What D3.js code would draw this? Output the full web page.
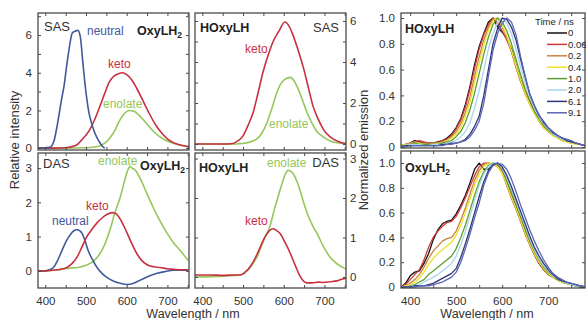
<!DOCTYPE html>
<html>
<head>
<meta charset="utf-8">
<script src="https://cdn.jsdelivr.net/npm/d3@7"></script>
<style>
  body { margin: 0; background: #fff; }
  svg { display: block; font-family: 'Liberation Sans', Arial, sans-serif; }
</style>
</head>
<body>
<svg id="chart" width="586" height="320"></svg>
<script>
// ---- SAS / DAS spectra (left and middle panels) ----
const oxySasNeutralWl = [382, 400, 410, 415, 421, 430, 440, 446, 452, 458, 466, 473, 480, 486, 492, 497, 502, 507, 514, 520, 526, 532, 540, 546];
const oxySasNeutral = [0, 0.02, 0.05, 0.1, 0.36, 1.3, 2.6, 3.3, 4.3, 5.2, 6.1, 6.2, 6.25, 5.9, 4.6, 3.5, 2.6, 1.9, 1.3, 0.9, 0.6, 0.36, 0.1, 0];
const oxySasKetoWl = [382, 420, 450, 476, 490, 507, 520, 532, 545, 557, 570, 580, 589, 600, 613, 625, 638, 655, 672, 688, 704, 725, 746, 753];
const oxySasKeto = [0, 0, 0.02, 0.15, 0.45, 0.9, 1.45, 2.1, 2.85, 3.5, 3.85, 3.95, 4.0, 3.9, 3.6, 3.15, 2.6, 1.85, 1.2, 0.75, 0.42, 0.2, 0.1, 0.08];
const oxySasEnolateWl = [382, 450, 500, 532, 545, 557, 570, 581, 593, 606, 618, 630, 645, 663, 680, 697, 720, 746, 753];
const oxySasEnolate = [0, 0, 0.02, 0.1, 0.25, 0.5, 0.9, 1.4, 1.8, 2.0, 1.95, 1.75, 1.4, 0.95, 0.62, 0.4, 0.22, 0.1, 0.08];

const oxyDasNeutralWl = [382, 400, 419, 430, 441, 452, 461, 470, 478, 485, 490, 497, 505, 515, 527, 540, 552, 568, 584, 601, 617, 633, 655, 675, 695, 714, 735, 751];
const oxyDasNeutral = [0, 0, 0.09, 0.3, 0.6, 0.88, 1.05, 1.17, 1.2, 1.17, 1.1, 0.9, 0.6, 0.35, 0.1, -0.08, -0.2, -0.3, -0.36, -0.4, -0.36, -0.27, -0.15, -0.07, -0.02, 0.02, 0.02, 0.02];
const oxyDasKetoWl = [382, 420, 440, 453, 466, 478, 490, 502, 515, 527, 540, 552, 564, 572, 579, 590, 601, 613, 625, 637, 650, 666, 682, 700, 720, 751];
const oxyDasKeto = [0, 0.02, 0.05, 0.1, 0.22, 0.4, 0.7, 1.0, 1.22, 1.4, 1.55, 1.65, 1.7, 1.68, 1.6, 1.38, 1.1, 0.78, 0.5, 0.3, 0.18, 0.12, 0.1, 0.06, 0.04, 0.03];
const oxyDasEnolateWl = [382, 419, 440, 461, 480, 502, 520, 534, 547, 559, 571, 584, 594, 603, 608, 613, 620, 633, 648, 665, 682, 699, 715, 731, 751];
const oxyDasEnolate = [0, 0.02, 0.05, 0.08, 0.1, 0.17, 0.3, 0.5, 0.8, 1.2, 1.7, 2.15, 2.6, 2.95, 3.05, 3.0, 2.95, 2.7, 2.3, 1.85, 1.45, 1.1, 0.82, 0.6, 0.3];

const hoxySasKetoWl = [382, 450, 475, 487, 500, 512, 525, 537, 549, 562, 574, 588, 603, 613, 623, 635, 648, 660, 672, 685, 697, 714, 731, 745, 753];
const hoxySasKeto = [0, 0, 0.03, 0.15, 0.4, 0.9, 1.55, 2.5, 3.5, 4.35, 5.0, 5.5, 5.95, 5.75, 5.3, 4.6, 3.75, 2.8, 1.85, 1.2, 0.73, 0.35, 0.15, 0.05, 0.03];
const hoxySasEnolateWl = [382, 480, 493, 510, 534, 547, 559, 571, 583, 593, 603, 616, 625, 633, 645, 657, 670, 682, 697, 714, 731, 753];
const hoxySasEnolate = [0, 0, 0.02, 0.06, 0.25, 0.55, 1.05, 1.75, 2.5, 2.95, 3.15, 3.25, 3.1, 2.8, 2.2, 1.55, 1.0, 0.6, 0.35, 0.15, 0.06, 0.02];

const hoxyDasKetoWl = [382, 420, 450, 480, 493, 505, 517, 530, 542, 552, 561, 568, 574, 582, 591, 603, 616, 628, 640, 650, 657, 670, 685, 697, 714, 731, 745, 753];
const hoxyDasKeto = [0.05, 0.05, 0.04, 0.05, 0.05, 0.12, 0.25, 0.48, 0.75, 0.98, 1.12, 1.2, 1.22, 1.18, 1.1, 0.88, 0.6, 0.3, 0.02, -0.12, -0.15, -0.15, -0.13, -0.14, -0.12, -0.1, -0.05, -0.03];
const hoxyDasEnolateWl = [382, 450, 493, 510, 522, 534, 546, 556, 566, 578, 591, 600, 606, 611, 617, 623, 635, 648, 660, 672, 682, 697, 714, 731, 753];
const hoxyDasEnolate = [0, 0.02, 0.05, 0.15, 0.3, 0.5, 0.8, 1.05, 1.28, 1.75, 2.2, 2.5, 2.65, 2.7, 2.68, 2.62, 2.35, 1.92, 1.55, 1.28, 1.1, 0.78, 0.5, 0.33, 0.2];

// ---- time-resolved normalized emission (right panels) ----
const timeLabels = ['0', '0.06', '0.2', '0.4', '1.0', '2.0', '6.1', '9.1'];
const timeColors = ['#111111', '#d03a3a', '#c8843c', '#ece22a', '#5a9e2e', '#a9d5ef', '#2b3778', '#5b63b6'];
const timeWl = [380, 390, 400, 410, 420, 430, 440, 450, 460, 470, 480, 490, 500, 510, 520, 530, 540, 550, 560, 570, 580, 590, 600, 610, 620, 630, 640, 650, 660, 670, 680, 690, 700, 710, 720, 730, 740, 750, 760, 770, 780];

const hoxyT0 = [0.01, 0.02, 0.03, 0.05, 0.04, 0.03, 0.03, 0.03, 0.04, 0.05, 0.07, 0.1, 0.15, 0.22, 0.33, 0.47, 0.64, 0.78, 0.88, 0.97, 1.0, 0.93, 0.89, 0.84, 0.76, 0.63, 0.52, 0.43, 0.35, 0.27, 0.21, 0.16, 0.13, 0.1, 0.08, 0.07, 0.05, 0.04, 0.03, 0.02, 0.01];
const hoxyT006 = [0.01, 0.02, 0.03, 0.04, 0.05, 0.04, 0.03, 0.03, 0.03, 0.05, 0.06, 0.09, 0.14, 0.21, 0.31, 0.45, 0.61, 0.76, 0.87, 0.95, 1.0, 0.96, 0.9, 0.83, 0.74, 0.62, 0.51, 0.42, 0.34, 0.27, 0.21, 0.16, 0.12, 0.1, 0.08, 0.06, 0.05, 0.04, 0.03, 0.02, 0.01];
const hoxyT02 = [0.01, 0.02, 0.03, 0.04, 0.03, 0.03, 0.02, 0.03, 0.03, 0.04, 0.05, 0.08, 0.12, 0.18, 0.27, 0.39, 0.55, 0.7, 0.83, 0.93, 0.99, 1.0, 0.93, 0.85, 0.74, 0.62, 0.51, 0.41, 0.33, 0.26, 0.2, 0.15, 0.12, 0.09, 0.07, 0.05, 0.04, 0.03, 0.03, 0.02, 0.01];
const hoxyT04 = [0.01, 0.02, 0.02, 0.03, 0.03, 0.02, 0.02, 0.02, 0.03, 0.03, 0.05, 0.07, 0.1, 0.15, 0.24, 0.35, 0.5, 0.65, 0.79, 0.9, 0.98, 1.0, 0.94, 0.86, 0.75, 0.63, 0.52, 0.42, 0.33, 0.26, 0.2, 0.15, 0.12, 0.09, 0.07, 0.05, 0.04, 0.03, 0.02, 0.02, 0.01];
const hoxyT10 = [0.01, 0.01, 0.02, 0.03, 0.02, 0.02, 0.02, 0.02, 0.02, 0.03, 0.04, 0.05, 0.08, 0.12, 0.19, 0.29, 0.42, 0.57, 0.72, 0.85, 0.95, 1.0, 0.97, 0.9, 0.8, 0.68, 0.56, 0.45, 0.36, 0.28, 0.22, 0.17, 0.13, 0.1, 0.08, 0.06, 0.05, 0.04, 0.03, 0.02, 0.01];
const hoxyT20 = [0, 0.01, 0.02, 0.02, 0.02, 0.01, 0.01, 0.02, 0.02, 0.02, 0.03, 0.04, 0.05, 0.08, 0.12, 0.19, 0.3, 0.44, 0.6, 0.76, 0.88, 0.97, 1.0, 0.96, 0.88, 0.76, 0.62, 0.5, 0.39, 0.3, 0.23, 0.18, 0.14, 0.1, 0.08, 0.06, 0.05, 0.04, 0.03, 0.02, 0.01];
const hoxyT61 = [0, 0.01, 0.01, 0.01, 0.01, 0.01, 0.01, 0.01, 0.01, 0.02, 0.02, 0.03, 0.03, 0.04, 0.06, 0.1, 0.16, 0.24, 0.4, 0.6, 0.8, 0.92, 1.0, 0.99, 0.93, 0.83, 0.68, 0.54, 0.41, 0.32, 0.25, 0.19, 0.15, 0.11, 0.09, 0.07, 0.05, 0.04, 0.03, 0.02, 0.01];
const hoxyT91 = [0, 0, 0.01, 0.01, 0.01, 0.01, 0.01, 0.01, 0.01, 0.01, 0.02, 0.02, 0.03, 0.04, 0.05, 0.08, 0.13, 0.2, 0.34, 0.55, 0.75, 0.88, 0.96, 1.0, 0.97, 0.87, 0.7, 0.55, 0.41, 0.32, 0.24, 0.2, 0.15, 0.12, 0.09, 0.07, 0.06, 0.05, 0.03, 0.02, 0.01];

const oxyT0 = [0, 0.03, 0.09, 0.12, 0.13, 0.19, 0.27, 0.38, 0.46, 0.51, 0.53, 0.54, 0.59, 0.66, 0.74, 0.84, 0.95, 1.0, 0.95, 0.95, 0.98, 1.0, 0.95, 0.84, 0.74, 0.65, 0.55, 0.45, 0.35, 0.26, 0.19, 0.14, 0.11, 0.08, 0.06, 0.04, 0.03, 0.02, 0.01, 0, 0];
const oxyT006 = [0, 0.02, 0.06, 0.1, 0.14, 0.22, 0.32, 0.4, 0.45, 0.49, 0.52, 0.53, 0.57, 0.64, 0.72, 0.81, 0.9, 0.97, 1.0, 1.0, 0.99, 0.98, 0.93, 0.82, 0.72, 0.63, 0.53, 0.43, 0.34, 0.26, 0.19, 0.14, 0.1, 0.08, 0.06, 0.04, 0.03, 0.02, 0.01, 0.01, 0];
const oxyT02 = [0, 0.01, 0.03, 0.06, 0.1, 0.16, 0.23, 0.29, 0.33, 0.37, 0.39, 0.4, 0.45, 0.54, 0.64, 0.75, 0.86, 0.94, 0.99, 1.0, 0.99, 0.97, 0.92, 0.82, 0.72, 0.63, 0.53, 0.43, 0.34, 0.26, 0.2, 0.14, 0.1, 0.08, 0.06, 0.04, 0.03, 0.02, 0.01, 0.01, 0];
const oxyT04 = [0, 0.01, 0.02, 0.04, 0.07, 0.12, 0.18, 0.23, 0.27, 0.3, 0.33, 0.36, 0.42, 0.5, 0.6, 0.71, 0.82, 0.91, 0.97, 1.0, 1.0, 0.97, 0.92, 0.83, 0.73, 0.64, 0.54, 0.44, 0.35, 0.27, 0.2, 0.15, 0.11, 0.08, 0.06, 0.04, 0.03, 0.02, 0.01, 0.01, 0];
const oxyT10 = [0, 0, 0.01, 0.02, 0.04, 0.06, 0.1, 0.13, 0.16, 0.19, 0.22, 0.25, 0.31, 0.4, 0.5, 0.62, 0.74, 0.85, 0.93, 0.98, 1.0, 0.99, 0.95, 0.86, 0.77, 0.67, 0.57, 0.47, 0.37, 0.29, 0.22, 0.16, 0.12, 0.09, 0.06, 0.05, 0.03, 0.02, 0.01, 0.01, 0];
const oxyT20 = [0, 0, 0.01, 0.01, 0.02, 0.04, 0.06, 0.08, 0.1, 0.13, 0.16, 0.19, 0.25, 0.34, 0.45, 0.57, 0.7, 0.82, 0.91, 0.97, 1.0, 1.0, 0.96, 0.88, 0.79, 0.69, 0.59, 0.49, 0.39, 0.3, 0.23, 0.17, 0.13, 0.09, 0.07, 0.05, 0.03, 0.02, 0.01, 0.01, 0];
const oxyT61 = [0, 0, 0, 0.01, 0.01, 0.01, 0.02, 0.03, 0.05, 0.07, 0.09, 0.11, 0.15, 0.24, 0.35, 0.47, 0.6, 0.73, 0.85, 0.94, 0.99, 1.0, 0.97, 0.9, 0.81, 0.71, 0.61, 0.51, 0.41, 0.32, 0.25, 0.19, 0.14, 0.1, 0.07, 0.05, 0.04, 0.03, 0.02, 0.01, 0];
const oxyT91 = [0, 0, 0, 0, 0.01, 0.01, 0.01, 0.02, 0.03, 0.04, 0.06, 0.08, 0.12, 0.2, 0.31, 0.43, 0.56, 0.68, 0.82, 0.92, 0.98, 1.0, 0.99, 0.95, 0.87, 0.77, 0.66, 0.56, 0.46, 0.37, 0.29, 0.22, 0.16, 0.11, 0.08, 0.06, 0.04, 0.03, 0.02, 0.01, 0];

const hoxyTime = [hoxyT0, hoxyT006, hoxyT02, hoxyT04, hoxyT10, hoxyT20, hoxyT61, hoxyT91];
const oxyTime = [oxyT0, oxyT006, oxyT02, oxyT04, oxyT10, oxyT20, oxyT61, oxyT91];

const wlTicks = [400, 450, 500, 550, 600, 650, 700, 750];
const wlLabels = [400, 500, 600, 700];

const NEUTRAL = '#41599c';
const KETO = '#c8303e';
const ENOLATE = '#95c65a';
const FRAME = '#4a4a4a';
const TEXT = '#333';

const svg = d3.select('#chart');

let clipId = 0;

// one framed panel with inward ticks on all four sides
const panel = ({ x0, x1, y0, y1, xDomain, yDomain, yTicks, yFormat, ySide, xLabels }) => {
  const x = d3.scaleLinear().domain(xDomain).range([x0, x1]);
  const y = d3.scaleLinear().domain(yDomain).range([y1, y0]);
  const g = svg.append('g');

  const id = `clip-${clipId++}`;
  svg.append('clipPath').attr('id', id)
    .append('rect').attr('x', x0).attr('y', y0).attr('width', x1 - x0).attr('height', y1 - y0);

  const plot = g.append('g').attr('clip-path', `url(#${id})`);

  const style = a => a
    .call(s => s.select('.domain').remove())
    .call(s => s.selectAll('line').attr('stroke', FRAME).attr('stroke-width', 1))
    .call(s => s.selectAll('text').attr('fill', TEXT).attr('font-size', 11.5));

  g.append('g')
    .attr('transform', `translate(0,${y1})`)
    .call(d3.axisBottom(x).tickValues(wlTicks).tickSizeInner(-3).tickSizeOuter(0).tickPadding(9)
      .tickFormat(d => xLabels && wlLabels.includes(d) ? d : ''))
    .call(style);

  g.append('g')
    .attr('transform', `translate(0,${y0})`)
    .call(d3.axisTop(x).tickValues(wlTicks).tickSizeInner(-3).tickSizeOuter(0).tickFormat(''))
    .call(style);

  g.append('g')
    .attr('transform', `translate(${x0},0)`)
    .call(d3.axisLeft(y).tickValues(yTicks).tickSizeInner(-3).tickSizeOuter(0).tickPadding(6)
      .tickFormat(ySide === 'left' ? yFormat : ''))
    .call(style);

  g.append('g')
    .attr('transform', `translate(${x1},0)`)
    .call(d3.axisRight(y).tickValues(yTicks).tickSizeInner(-3).tickSizeOuter(0).tickPadding(4)
      .tickFormat(ySide === 'right' ? yFormat : ''))
    .call(style);

  g.append('rect')
    .attr('x', x0).attr('y', y0).attr('width', x1 - x0).attr('height', y1 - y0)
    .attr('fill', 'none').attr('stroke', FRAME).attr('stroke-width', 1.3);

  const line = d3.line().x(d => x(d[0])).y(d => y(d[1]));

  const curve = (wl, vals, color, width = 1.6, smooth = true) => plot.append('path')
    .datum(d3.zip(wl, vals))
    .attr('d', line.curve(smooth ? d3.curveMonotoneX : d3.curveLinear))
    .attr('fill', 'none')
    .attr('stroke', color)
    .attr('stroke-width', width)
    .attr('stroke-linejoin', 'round');

  return { g, x, y, curve };
};

const label = (txt, x, y, color, opts = {}) => {
  const t = svg.append('text')
    .attr('x', x).attr('y', y)
    .attr('fill', color)
    .attr('font-size', opts.size || 12)
    .attr('font-weight', opts.bold ? 'bold' : 'normal')
    .attr('text-anchor', opts.anchor || 'start');
  if (opts.sub) {
    t.append('tspan').text(txt);
    t.append('tspan').attr('font-size', 8.5).attr('dy', 3).text(opts.sub);
  } else {
    t.text(txt);
  }
  return t;
};

const intFmt = d => d;
const normFmt = d => d === 0 ? '0' : d3.format('.1f')(d);

// top-left: SAS OxyLH2
const a = panel({ x0: 38, x1: 189, y0: 13, y1: 150, xDomain: [382, 753], yDomain: [-0.1, 7.17],
  yTicks: [0, 1, 2, 3, 4, 5, 6, 7], yFormat: d => d % 2 === 0 ? d : '', ySide: 'left' });
a.curve(oxySasEnolateWl, oxySasEnolate, ENOLATE);
a.curve(oxySasKetoWl, oxySasKeto, KETO);
a.curve(oxySasNeutralWl, oxySasNeutral, NEUTRAL);

// bottom-left: DAS OxyLH2
const b = panel({ x0: 38, x1: 189, y0: 153, y1: 288, xDomain: [382, 753], yDomain: [-0.5, 3.44],
  yTicks: [0, 1, 2, 3], yFormat: intFmt, ySide: 'left', xLabels: true });
b.curve(oxyDasEnolateWl, oxyDasEnolate, ENOLATE);
b.curve(oxyDasNeutralWl, oxyDasNeutral, NEUTRAL);
b.curve(oxyDasKetoWl, oxyDasKeto, KETO);

// top-middle: SAS HOxyLH
const c = panel({ x0: 195, x1: 346, y0: 13, y1: 150, xDomain: [382, 753], yDomain: [-0.29, 6.39],
  yTicks: [0, 1, 2, 3, 4, 5, 6], yFormat: d => d % 2 === 0 ? d : '', ySide: 'right' });
c.curve(hoxySasEnolateWl, hoxySasEnolate, ENOLATE);
c.curve(hoxySasKetoWl, hoxySasKeto, KETO);

// bottom-middle: DAS HOxyLH
const d = panel({ x0: 195, x1: 346, y0: 153, y1: 288, xDomain: [382, 753], yDomain: [-0.28, 3.14],
  yTicks: [0, 1, 2, 3], yFormat: intFmt, ySide: 'right', xLabels: true });
d.curve(hoxyDasEnolateWl, hoxyDasEnolate, ENOLATE);
d.curve(hoxyDasKetoWl, hoxyDasKeto, KETO);

// top-right: normalized emission HOxyLH
const e = panel({ x0: 401, x1: 585, y0: 13, y1: 148, xDomain: [380, 780], yDomain: [-0.008, 1.039],
  yTicks: [0, 0.2, 0.4, 0.6, 0.8, 1.0], yFormat: normFmt, ySide: 'left' });
hoxyTime.forEach((s, i) => e.curve(timeWl, s, timeColors[i], 1.3, false));

// bottom-right: normalized emission OxyLH2
const f = panel({ x0: 401, x1: 585, y0: 151, y1: 288, xDomain: [380, 780], yDomain: [-0.008, 1.097],
  yTicks: [0, 0.2, 0.4, 0.6, 0.8, 1.0], yFormat: normFmt, ySide: 'left', xLabels: true });
oxyTime.forEach((s, i) => f.curve(timeWl, s, timeColors[i], 1.3, false));

// panel annotations
label('SAS', 44, 31, TEXT, { size: 13 });
label('neutral', 87, 35, NEUTRAL);
label('OxyLH', 137, 35, '#222', { bold: true, size: 12.5, sub: '2' });
label('keto', 108, 68, KETO);
label('enolate', 103, 108, ENOLATE);

label('DAS', 43, 168, TEXT, { size: 13 });
label('enolate', 98, 165, ENOLATE);
label('OxyLH', 140, 170, '#222', { bold: true, size: 12.5, sub: '2' });
label('keto', 86, 210, KETO);
label('neutral', 52, 225, NEUTRAL);

label('HOxyLH', 200, 32, '#222', { bold: true, size: 12.5 });
label('SAS', 339, 32, TEXT, { size: 13, anchor: 'end' });
label('keto', 245, 53, KETO);
label('enolate', 269, 128, ENOLATE);

label('HOxyLH', 199, 172, '#222', { bold: true, size: 12.5 });
label('enolate', 267, 167, ENOLATE);
label('DAS', 339, 167, TEXT, { size: 13, anchor: 'end' });
label('keto', 245, 225, KETO);

label('HOxyLH', 405, 33, '#222', { bold: true, size: 12.5 });
label('OxyLH', 405, 172, '#222', { bold: true, size: 12.5, sub: '2' });

// legend
label('Time / ns', 535, 25, '#222', { size: 9.5 });
const legend = svg.append('g').selectAll('g')
  .data(timeLabels)
  .join('g')
  .attr('transform', (t, i) => `translate(547,${33 + i * 11.4})`);
legend.append('line')
  .attr('x1', 0).attr('x2', 20)
  .attr('stroke', (t, i) => timeColors[i]).attr('stroke-width', 1.5);
legend.append('text')
  .attr('x', 21).attr('dy', '0.35em')
  .attr('font-size', 9.5).attr('fill', '#222')
  .text(t => t);

// axis titles
svg.append('text')
  .attr('transform', 'translate(19,140) rotate(-90)')
  .attr('text-anchor', 'middle').attr('font-size', 13).attr('fill', TEXT)
  .text('Relative intensity');
svg.append('text')
  .attr('transform', 'translate(368,150) rotate(-90)')
  .attr('text-anchor', 'middle').attr('font-size', 13).attr('fill', TEXT)
  .text('Normalized emission');
svg.append('text')
  .attr('x', 193).attr('y', 318)
  .attr('text-anchor', 'middle').attr('font-size', 12.5).attr('fill', TEXT)
  .text('Wavelength / nm');
svg.append('text')
  .attr('x', 487).attr('y', 318)
  .attr('text-anchor', 'middle').attr('font-size', 12.5).attr('fill', TEXT)
  .text('Wavelength / nm');
</script>
</body>
</html>
